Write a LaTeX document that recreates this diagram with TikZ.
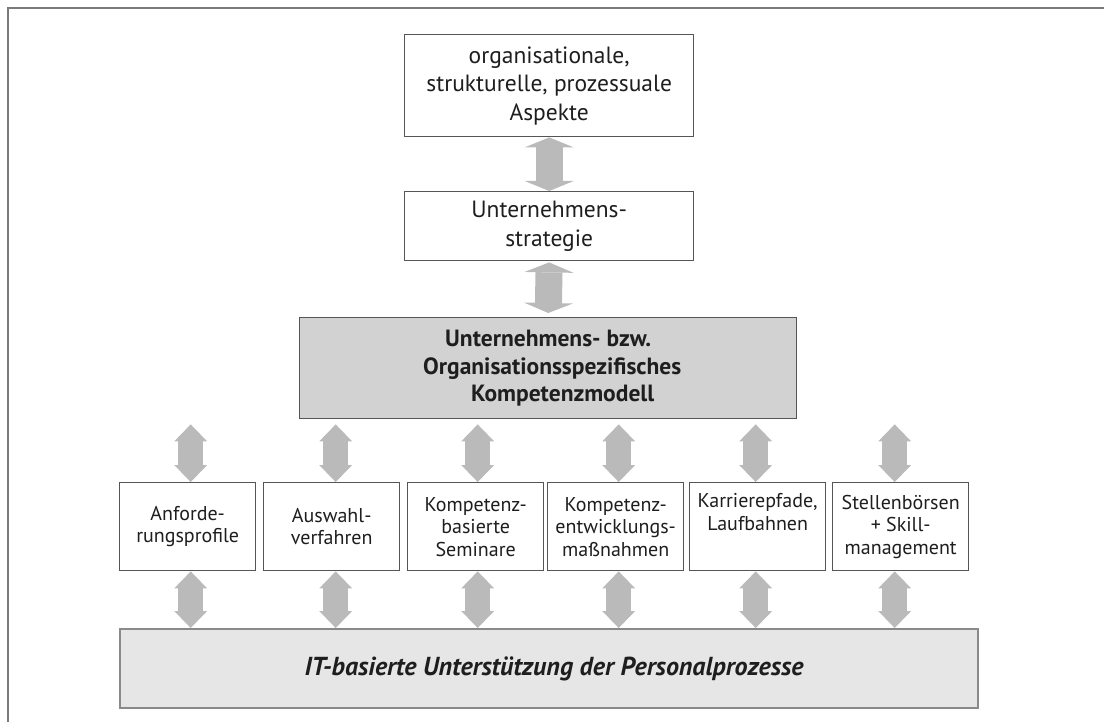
\documentclass[tikz,border=0pt]{standalone}
\usepackage{fontspec}
\setmainfont{PT Sans}
\usetikzlibrary{arrows.meta}

\definecolor{framegray}{HTML}{7A7A7A}
\definecolor{boxline}{HTML}{555555}
\definecolor{arrowgray}{HTML}{BABABA}
\definecolor{modelfill}{HTML}{D2D2D2}
\definecolor{itfill}{HTML}{E6E6E6}
\definecolor{itline}{HTML}{8A8A8A}
\definecolor{textdark}{HTML}{1E1E1E}

\begin{document}
\begin{tikzpicture}[x=1pt,y=-1pt,
  box/.style={draw=boxline, line width=1.4pt, fill=white, inner sep=0pt,
    anchor=north west, align=center, text=textdark},
  bigtext/.style={font=\fontsize{23.5}{28.5}\selectfont},
  smalltext/.style={font=\fontsize{20}{22.5}\selectfont},
  smallbox/.style={box, smalltext, minimum width=136pt, minimum height=88pt},
  bigarrow/.style={draw=arrowgray, line width=27pt,
    {Triangle[width=49pt,length=10pt,line width=0pt]}-{Triangle[width=49pt,length=10pt,line width=0pt]}},
  smallarrow/.style={draw=arrowgray, line width=25pt,
    {Triangle[width=33pt,length=17pt,line width=0pt]}-{Triangle[width=33pt,length=17pt,line width=0pt]}}
]
\useasboundingbox (0,0) rectangle (1104,722);

% outer frame (top and left edges)
\draw[framegray, line width=2pt] (8,722) -- (8,8) -- (1104,8);

% upper chain
\node[box, bigtext, minimum width=289pt, minimum height=102pt] (aspects) at (404,34)
  {organisationale,\\strukturelle, prozessuale\\Aspekte};
\node[box, bigtext, minimum width=289pt, minimum height=69pt] (strategy) at (404,191)
  {Unternehmens-\\strategie};
\node[box, fill=modelfill, minimum width=497pt, minimum height=101pt,
  font=\bfseries\fontsize{23.5}{27.5}\selectfont] (model) at (299,317)
  {Unternehmens- bzw.\\\hspace*{8pt}Organisationsspezifisches\\\hspace*{29pt}Kompetenzmodell};

% row of HR instruments
\node[smallbox] (b1) at (119,482) {Anforde-\\rungsprofile};
\node[smallbox] (b2) at (263,482) {Auswahl-\\verfahren};
\node[smallbox] (b3) at (407,482) {Kompetenz-\\basierte\\Seminare};
\node[smallbox] (b4) at (547,482) {Kompetenz-\\entwicklungs-\\maßnahmen};
\node[smallbox] (b5) at (689,482) {Karrierepfade,\\Laufbahnen\\\strut};
\node[smallbox] (b6) at (832,482) {Stellenbörsen\\+ Skill-\\management};

% IT support base
\node[box, draw=itline, line width=2pt, fill=itfill, minimum width=858pt, minimum height=79pt,
  font=\bfseries\itshape\fontsize{26}{30}\selectfont] (it) at (119,628)
  {\hspace*{10pt}IT-basierte Unterstützung der Personalprozesse};

% connectors of the upper chain
\draw[bigarrow] (aspects.south) -- (strategy.north);
\draw[bigarrow, shorten <=1pt, shorten >=4pt] (strategy.south) -- (model.north);

% connectors above and below each instrument
\foreach \b/\o in {b1/3, b2/4, b3/2, b4/3, b5/-2, b6/-6} {
  \coordinate (\b-up) at ([xshift=\o pt]\b.north);
  \coordinate (\b-dn) at ([xshift=\o pt]\b.south);
  \draw[smallarrow, shorten >=5pt] (\b-up) -- (\b-up |- model.south);
  \draw[smallarrow] (\b-dn) -- (\b-dn |- it.north);
}
\end{tikzpicture}
\end{document}
